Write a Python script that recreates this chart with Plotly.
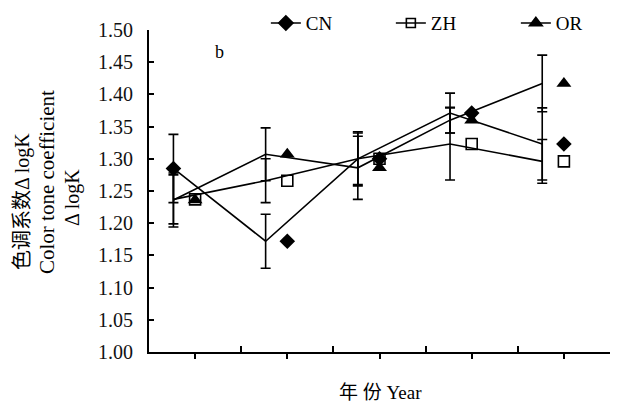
import plotly.graph_objects as go

# data
positions = [1, 2, 3, 4, 5]
cn = [1.285, 1.172, 1.300, 1.371, 1.323]
zh = [1.237, 1.266, 1.300, 1.323, 1.296]
orr = [1.236, 1.307, 1.286, 1.360, 1.417]
cn_err = [0.053, 0.042, 0.042, 0.031, 0.056]
zh_err = [0.038, 0.034, 0.040, 0.056, 0.034]
or_err = [0.042, 0.041, 0.049, 0.020, 0.044]
y_ticks = [1.00, 1.05, 1.10, 1.15, 1.20, 1.25, 1.30, 1.35, 1.40, 1.45, 1.50]

OFF = -0.235  # line/error-bar series drawn left of category centre
line_x = [p + OFF for p in positions]
cn_marker_x = [positions[0] + OFF] + positions[1:]

SERIF = "Liberation Serif, Times New Roman, Noto Sans CJK SC, serif"
BLK = "#000000"

fig = go.Figure()

def err_line(yv, ev):
    return go.Scatter(
        x=line_x, y=yv, mode="lines",
        line=dict(color=BLK, width=1.6),
        error_y=dict(type="data", array=ev, visible=True, color=BLK,
                     thickness=1.6, width=5),
        showlegend=False, hoverinfo="skip",
    )

fig.add_trace(err_line(cn, cn_err))
fig.add_trace(err_line(zh, zh_err))
fig.add_trace(err_line(orr, or_err))

# marker series
fig.add_trace(go.Scatter(x=cn_marker_x, y=cn, mode="markers",
                         marker=dict(symbol="diamond", size=12, color=BLK),
                         showlegend=False))
fig.add_trace(go.Scatter(x=positions, y=zh, mode="markers",
                         marker=dict(symbol="square-open", size=11, color=BLK,
                                     line=dict(width=1.6, color=BLK)),
                         showlegend=False))
fig.add_trace(go.Scatter(x=positions, y=orr, mode="markers",
                         marker=dict(symbol="triangle-up", size=13, color=BLK),
                         showlegend=False))

# legend entries
for name, sym, sz in [("CN", "diamond", 11), ("ZH", "square-open", 9), ("OR", "triangle-up", 11)]:
    fig.add_trace(go.Scatter(x=[None], y=[None], mode="lines+markers", name=name,
                             line=dict(color=BLK, width=1.6),
                             marker=dict(symbol=sym, size=sz, color=BLK,
                                         line=dict(width=1.6, color=BLK))))

# dummy trace for second x axis (inside ticks at category boundaries)
fig.add_trace(go.Scatter(x=[None], y=[None], xaxis="x2", showlegend=False))

fig.update_layout(
    width=632, height=397,
    margin=dict(l=141, r=30, t=22, b=53, autoexpand=False),
    paper_bgcolor="white", plot_bgcolor="white",
    font=dict(family=SERIF, size=19, color=BLK),
    showlegend=True,
    legend=dict(orientation="h", xref="container", yref="container",
                x=0.408, y=0.962, xanchor="left", yanchor="middle",
                font=dict(family=SERIF, size=19, color=BLK),
                entrywidth=80, entrywidthmode="pixels",
                bgcolor="rgba(0,0,0,0)"),
    xaxis=dict(range=[0.5, 5.5], showgrid=False, zeroline=False,
               showline=True, linecolor=BLK, linewidth=2,
               tickvals=positions, ticktext=["", "", "", "", ""],
               ticks="outside", ticklen=5, tickwidth=1.5, tickcolor=BLK),
    xaxis2=dict(range=[0.5, 5.5], overlaying="x", anchor="y", side="bottom",
                showgrid=False, zeroline=False, showline=False,
                tickvals=[1.5, 2.5, 3.5, 4.5, 5.5], ticktext=[""] * 5,
                ticks="inside", ticklen=6, tickwidth=1.5, tickcolor=BLK),
    yaxis=dict(range=[1.0, 1.5], showgrid=False, zeroline=False,
               showline=True, linecolor=BLK, linewidth=2,
               tickvals=y_ticks, tickformat=".2f",
               ticks="inside", ticklen=5, tickwidth=1.5, tickcolor=BLK,
               ticklabelstandoff=10,
               tickfont=dict(family=SERIF, size=20, color="#111111")),
)

# axis titles and panel label (positions in page pixels of the reference)
ann = [
    dict(text="色调系数Δ logK", x=22, y=202, textangle=-90, size=20),
    dict(text="Color tone coefficient", x=47, y=182, textangle=-90, size=21),
    dict(text="Δ logK", x=72, y=198, textangle=-90, size=20),
    dict(text="年 份 Year", x=380, y=392, textangle=0, size=19),
    dict(text="b", x=219, y=52, textangle=0, size=18),
]
for a in ann:
    fig.add_annotation(text=a["text"], xref="paper", yref="paper",
                       x=(a["x"] - 149) / 461,
                       y=(352 - a["y"]) / 322,
                       xanchor="center", yanchor="middle",
                       textangle=a["textangle"], showarrow=False,
                       font=dict(family=SERIF, size=a["size"], color=BLK))

fig.write_html("out.html")
